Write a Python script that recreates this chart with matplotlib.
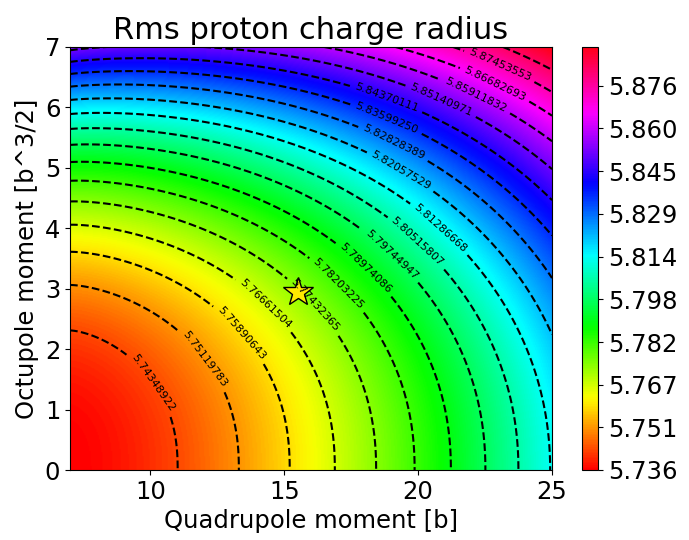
import numpy as np
import matplotlib
matplotlib.use("Agg")
import matplotlib.pyplot as plt

# axis ranges of the scan
q_range = [7, 25]      # quadrupole moment [b]
o_range = [0, 7]       # octupole moment [b^3/2]

# radius model (min at the lower-left corner)
r_min = 5.735781
r_step = 0.00770861
q_scale, q_pow = 4.02, 1.54
o_scale = 2.31
o_pow_left, o_pow_right = 2.46, 2.08

# contour levels as labelled in the plot (last one has no label)
levels = [5.74348922, 5.75119783, 5.75890643, 5.76661504, 5.77432365,
          5.78203225, 5.78974086, 5.79744947, 5.80515807, 5.81286668,
          5.82057529, 5.82828389, 5.83599250, 5.84370111, 5.85140971,
          5.85911832, 5.86682693, 5.87453553, 5.88224414]

# where each level carries its label (approx.)
label_q = [9.99, 12.0, 13.42, 14.36, 16.11, 17.01, 18.02, 18.99, 19.96,
           20.89, 19.43, 19.21, 18.95, 18.95, 21.0, 22.27, 22.98, 23.13]
label_o = [1.41, 1.82, 2.28, 2.78, 2.71, 3.08, 3.34, 3.56, 3.77,
           4.04, 5.01, 5.53, 5.96, 6.32, 6.26, 6.30, 6.49, 6.78]

# colorbar
c_min, c_max = 5.735781, 5.890
cbar_ticks = [5.7358, 5.7514, 5.7669, 5.7824, 5.7980, 5.8136,
              5.8292, 5.8447, 5.8603, 5.8758]
cbar_labels = ["5.736", "5.751", "5.767", "5.782", "5.798", "5.814",
               "5.829", "5.845", "5.860", "5.876"]

# marked point
star_q, star_o = 15.5, 2.95


def radius(q, o):
    t = (q - q_range[0]) / (q_range[1] - q_range[0])
    o_pow = o_pow_left + (o_pow_right - o_pow_left) * t
    u = ((q - q_range[0]) / q_scale) ** q_pow
    v = (o / o_scale) ** o_pow
    return r_min + r_step * (u + v)


Q, O = np.meshgrid(np.linspace(q_range[0], q_range[1], 400),
                   np.linspace(o_range[0], o_range[1], 400))
R = radius(Q, O)

fig = plt.figure(figsize=(6.89, 5.40), dpi=100)
ax = fig.add_axes([0.1016, 0.1296, 0.6996, 0.7834])
cax = fig.add_axes([0.8447, 0.1296, 0.0232, 0.7834])

im = ax.imshow(R, origin="lower", cmap="hsv", vmin=c_min, vmax=c_max,
               extent=[q_range[0], q_range[1], o_range[0], o_range[1]],
               aspect="auto", interpolation="bilinear")

# one contour per level so each label can be placed like in the original
for i, lev in enumerate(levels):
    cs = ax.contour(Q, O, R, levels=[lev], colors="k", linestyles="dashed",
                    linewidths=1.5)
    if i < len(label_q):
        ax.clabel(cs, fmt="%.8f", fontsize=8, inline=True,
                  manual=[(label_q[i], label_o[i])])

ax.plot(star_q, star_o, marker="*", markersize=22, color="#ffea00",
        markeredgecolor="k", markeredgewidth=1.0)

ax.set_xlim(q_range)
ax.set_ylim(o_range)
ax.set_xticks([10, 15, 20, 25])
ax.set_yticks(range(0, 8))
ax.tick_params(labelsize=17.5)
ax.set_xlabel("Quadrupole moment [b]", fontsize=17.5)
ax.set_ylabel("Octupole moment [b^3/2]", fontsize=17.5)
ax.set_title("Rms proton charge radius", fontsize=22)

cb = fig.colorbar(im, cax=cax, ticks=cbar_ticks)
cb.ax.set_yticklabels(cbar_labels)
cb.ax.tick_params(labelsize=17.5)

fig.savefig("out.png", dpi=100)
